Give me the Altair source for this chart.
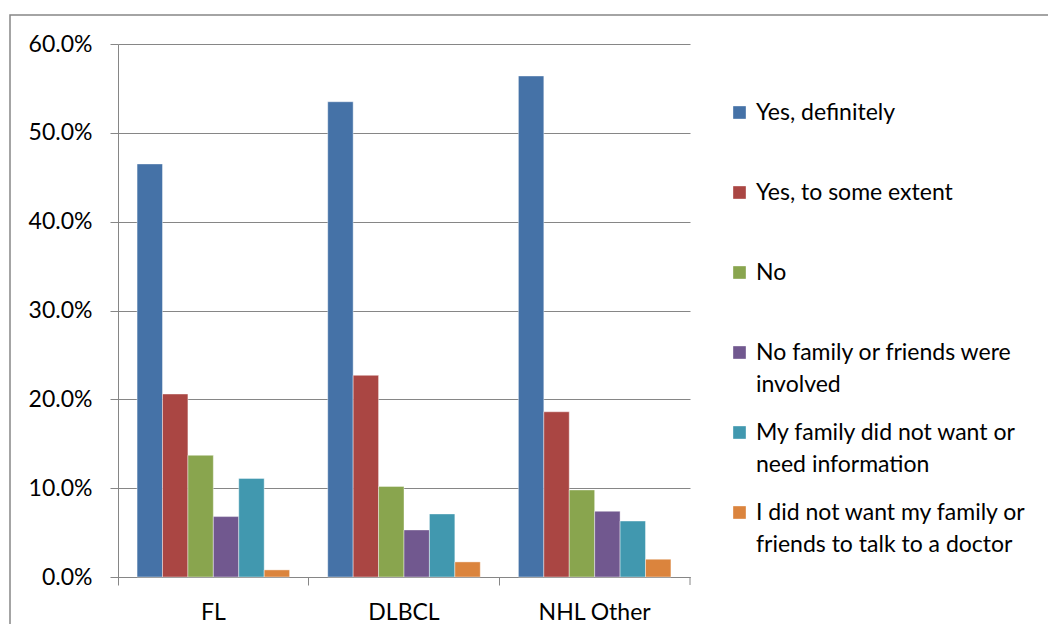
import altair as alt
import pandas as pd

categories = ["FL", "DLBCL", "NHL Other"]
series = [
    "Yes, definitely",
    "Yes, to some extent",
    "No",
    "No family or friends were involved",
    "My family did not want or need information",
    "I did not want my family or friends to talk to a doctor",
]
colors = ["#4572A7", "#AA4643", "#89A54E", "#71588F", "#4198AF", "#DB843D"]

fl = [0.465, 0.206, 0.137, 0.068, 0.111, 0.008]
dlbcl = [0.535, 0.227, 0.102, 0.053, 0.071, 0.017]
nhl_other = [0.564, 0.186, 0.098, 0.074, 0.063, 0.020]

y_ticks = [0.0, 0.1, 0.2, 0.3, 0.4, 0.5, 0.6]

rows = []
for cat, vals in zip(categories, [fl, dlbcl, nhl_other]):
    for s, v in zip(series, vals):
        rows.append({"category": cat, "series": s, "value": v})
df = pd.DataFrame(rows)

GRAY = "#868686"
W, H = 572, 533
FS = 23

label_expr = (
    "datum.label == 'No family or friends were involved' ? ['No family or friends were', 'involved'] : "
    "datum.label == 'My family did not want or need information' ? ['My family did not want or', 'need information'] : "
    "datum.label == 'I did not want my family or friends to talk to a doctor' ? ['I did not want my family or', 'friends to talk to a doctor'] : "
    "datum.label"
)

bars = alt.Chart(df).mark_bar(stroke="white", strokeWidth=0.6, strokeOpacity=0.7).encode(
    x=alt.X(
        "category:N",
        sort=categories,
        scale=alt.Scale(paddingInner=0, paddingOuter=0),
        axis=alt.Axis(
            title=None, labelAngle=0, bandPosition=0, tickSize=8, labelPadding=16,
            domainColor=GRAY, tickColor=GRAY, grid=False, labelFontSize=FS,
            labelColor="black",
        ),
    ),
    xOffset=alt.XOffset(
        "series:N", sort=series, scale=alt.Scale(paddingInner=0, paddingOuter=0.75)
    ),
    y=alt.Y(
        "value:Q",
        scale=alt.Scale(domain=[0, 0.6], nice=False),
        axis=alt.Axis(
            title=None, format=".1%", values=y_ticks, tickSize=8, labelPadding=18,
            domainColor=GRAY, tickColor=GRAY, gridColor=GRAY, grid=True,
            labelFontSize=FS, labelColor="black",
        ),
    ),
    color=alt.Color(
        "series:N",
        sort=series,
        scale=alt.Scale(domain=series, range=colors),
        legend=alt.Legend(
            title=None, orient="none", legendX=610, legendY=57, padding=0,
            symbolType="square", symbolSize=160, symbolStrokeWidth=0,
            labelFontSize=FS, labelLimit=400, labelOffset=5,
            rowPadding=24, gridAlign="all", labelExpr=label_expr,
            labelColor="black",
        ),
    ),
)

one = pd.DataFrame({"a": [0]})
end_tick = alt.Chart(one).mark_rule(color=GRAY, strokeWidth=1).encode(
    x=alt.value(W), y=alt.value(H), y2=alt.value(H + 8)
)
frame = alt.Chart(one).mark_rect(fill=None, stroke=GRAY, strokeWidth=1.5).encode(
    x=alt.value(-108), x2=alt.value(960), y=alt.value(-29), y2=alt.value(600)
)

chart = (
    alt.layer(frame, bars, end_tick)
    .properties(
        width=W,
        height=H,
        autosize=alt.AutoSizeParams(type="none"),
        padding={"left": 110, "top": 36, "right": 358, "bottom": 47},
    )
    .configure(font="Lato", style={"guide-label": {"lineHeight": 32}})
    .configure_view(stroke=None)
    .configure_axis(domainWidth=1, tickWidth=1, gridWidth=1)
)

chart.save("out.html", embed_options={"renderer": "svg", "actions": False})
